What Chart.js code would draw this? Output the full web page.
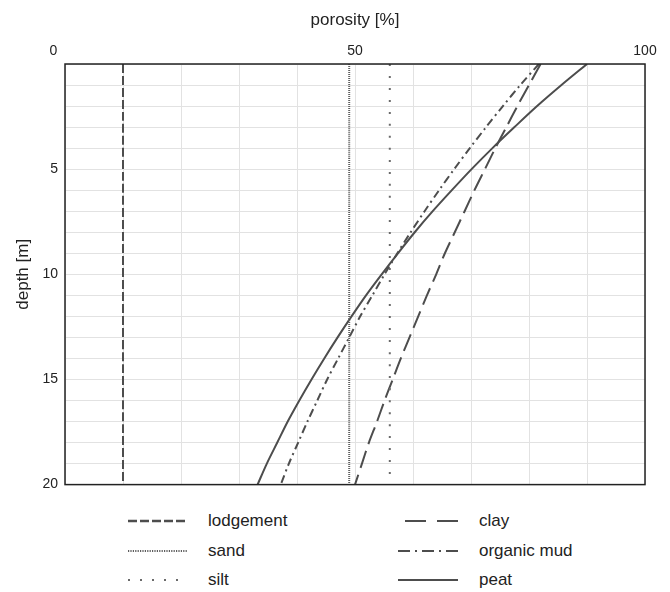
<!DOCTYPE html>
<html>
<head>
<meta charset="utf-8">
<script src="https://cdn.jsdelivr.net/npm/chart.js@4"></script>
<style>
  html, body { margin: 0; padding: 0; background: #fff; }
  body { width: 670px; height: 592px; position: relative; overflow: hidden;
         font-family: 'Liberation Sans', Arial, sans-serif; color: #222; }
  #wrap { position: absolute; left: 0; top: 0; width: 670px; height: 500px; }
  .legend-item { position: absolute; height: 20px; display: flex; align-items: center; font-size: 17px; }
  .legend-item svg { display: block; }
  .legend-item span { position: absolute; white-space: nowrap; }
</style>
</head>
<body>
<div id="wrap"><canvas id="chart"></canvas></div>
<div id="legend"></div>
<script>
'use strict';

// depth [m] down the profile
const DEPTHS = [0, 1, 2, 3, 4, 5, 6, 7, 8, 9, 10, 11, 12, 13, 14, 15, 16, 17, 18, 19, 20];
const CLAY        = [82.0, 80.0, 78.0, 76.1, 74.2, 72.4, 70.6, 68.9, 67.2, 65.5, 64.0, 62.4, 60.9, 59.4, 57.9, 56.5, 55.1, 53.8, 52.4, 51.2, 50.0];
const ORGANIC_MUD = [81.7, 78.5, 75.5, 72.6, 69.8, 67.1, 64.5, 62.0, 59.6, 57.3, 55.1, 53.0, 50.9, 49.0, 47.1, 45.2, 43.5, 41.8, 40.2, 38.6, 37.2];
const PEAT        = [90.0, 85.6, 81.4, 77.5, 73.7, 70.1, 66.7, 63.4, 60.3, 57.4, 54.6, 51.9, 49.4, 47.0, 44.7, 42.5, 40.4, 38.4, 36.6, 34.8, 33.2];

// constant-porosity soils, top and bottom of profile
const END_DEPTHS = [0, 20];
const LODGEMENT  = [10, 10];
const SAND       = [49, 49];
const SILT       = [56, 56];

const X_LABELS = [0, 50, 100];
const Y_LABELS = [5, 10, 15, 20];

const LINE = '#4d4d4d';
const SERIES = [
  { label: 'lodgement',   x: LODGEMENT,   y: END_DEPTHS, color: LINE,      width: 2,   dash: [9, 3],        legendDash: '9 3' },
  { label: 'sand',        x: SAND,        y: END_DEPTHS, color: '#5e5e5e', width: 2,   dash: [1, 1],        legendDash: '1.2 1.2' },
  { label: 'silt',        x: SILT,        y: END_DEPTHS, color: '#6a6a6a', width: 2,   dash: [2, 10],       legendDash: '2 10' },
  { label: 'clay',        x: CLAY,        y: DEPTHS,     color: LINE,      width: 2,   dash: [18, 7],       legendDash: '21 11' },
  { label: 'organic mud', x: ORGANIC_MUD, y: DEPTHS,     color: LINE,      width: 2,   dash: [8, 4, 2, 4],  legendDash: '12 5 2 5' },
  { label: 'peat',        x: PEAT,        y: DEPTHS,     color: LINE,      width: 2,   dash: [],            legendDash: '' },
];

const FONT = "'Liberation Sans', Arial, sans-serif";

const frame = {
  id: 'frame',
  afterDraw(chart) {
    const { ctx, chartArea: a } = chart;
    ctx.save();
    ctx.strokeStyle = '#222';
    ctx.lineWidth = 1.5;
    ctx.strokeRect(a.left, a.top, a.right - a.left, a.bottom - a.top);
    ctx.restore();
  },
};

function buildDatasets() {
  return SERIES.map(s => ({
    label: s.label,
    data: s.x.map((v, i) => ({ x: v, y: s.y[i] })),
    showLine: true,
    borderColor: s.color,
    borderWidth: s.width,
    borderDash: s.dash,
    pointRadius: 0,
    tension: 0.3,
    fill: false,
  }));
}

// the "0" of the porosity axis sits a little left of the corner in the original
function xTickLabel(v) {
  if (!X_LABELS.includes(v)) return '';
  return v === 0 ? '0      ' : String(v);
}

function renderChart() {
  new Chart(document.getElementById('chart'), {
    type: 'scatter',
    data: { datasets: buildDatasets() },
    plugins: [frame],
    options: {
      responsive: true,
      maintainAspectRatio: false,
      animation: false,
      layout: { padding: { left: 0, top: 0, right: 25, bottom: 11 } },
      plugins: { legend: { display: false }, tooltip: { enabled: false } },
      scales: {
        x: {
          type: 'linear',
          position: 'top',
          min: 0, max: 100,
          afterFit: s => { s.height = 64; },
          grid: { color: '#e2e2e2', lineWidth: 1, drawTicks: false },
          border: { display: false },
          ticks: {
            stepSize: 10, autoSkip: false, maxRotation: 0, padding: 4,
            color: '#222', font: { family: FONT, size: 14 },
            callback: xTickLabel,
          },
          title: { display: true, text: 'porosity [%]', color: '#222', padding: { top: 10, bottom: 0 }, font: { family: FONT, size: 17 } },
        },
        y: {
          type: 'linear',
          reverse: true,
          min: 0, max: 20,
          afterFit: s => { s.width = 65; },
          grid: { color: '#e2e2e2', lineWidth: 1, drawTicks: false },
          border: { display: false },
          ticks: {
            stepSize: 1, autoSkip: false, padding: 7,
            color: '#222', font: { family: FONT, size: 14 },
            callback: v => Y_LABELS.includes(v) ? String(v) : '',
          },
          title: { display: true, text: 'depth [m]', color: '#222', padding: { top: 13, bottom: 0 }, font: { family: FONT, size: 17 } },
        },
      },
    },
  });
}

function renderLegend() {
  // two columns, three rows
  const cols = [{ lineX: 128, lineW: 60, textX: 208 }, { lineX: 398, lineW: 60, textX: 479 }];
  const rowsY = [521, 551, 580];
  const container = document.getElementById('legend');
  container.innerHTML = SERIES.map((s, i) => {
    const c = cols[Math.floor(i / 3)];
    const y = rowsY[i % 3];
    const x0 = s.label === 'clay' ? 7 : 0;
    return `<div class="legend-item" style="left:${c.lineX}px; top:${y - 10}px; width:${c.textX - c.lineX + 150}px">
      <svg width="${c.lineW}" height="20"><line x1="${x0}" y1="10" x2="${c.lineW}" y2="10" stroke="${s.color}" stroke-width="${s.label === 'lodgement' ? 2.5 : 2}" stroke-dasharray="${s.legendDash}"/></svg>
      <span style="left:${c.textX - c.lineX}px">${s.label}</span>
    </div>`;
  }).join('');
}

renderChart();
renderLegend();
</script>
</body>
</html>
